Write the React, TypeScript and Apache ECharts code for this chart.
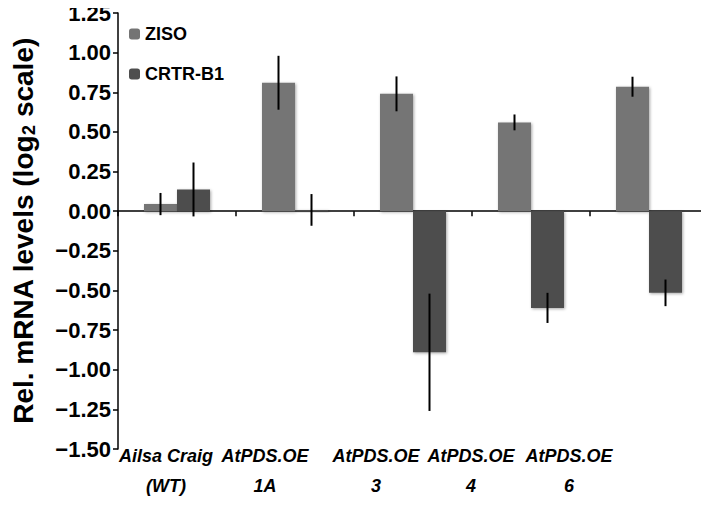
import React, { useEffect, useRef } from "react";
import * as echarts from "echarts";

const categories = [
  ["Ailsa Craig", "(WT)"],
  ["AtPDS.OE", "1A"],
  ["AtPDS.OE", "3"],
  ["AtPDS.OE", "4"],
  ["AtPDS.OE", "6"],
];
const zisoValues = [0.045, 0.81, 0.74, 0.56, 0.785];
const zisoErrors = [0.07, 0.17, 0.11, 0.05, 0.063];
const crtrValues = [0.137, 0.008, -0.89, -0.61, -0.515];
const crtrErrors = [0.17, 0.1, 0.37, 0.095, 0.084];
const labelShift = [22, 60, 74, 120, 160];
const yTicks = { min: -1.5, max: 1.25, interval: 0.25 };

const FONT = "Liberation Sans, Arial, sans-serif";
const BAR_W = 33;

export default function App() {
  const ref = useRef<HTMLDivElement>(null);
  useEffect(() => {
    if (!ref.current) return;
    const chart = echarts.init(ref.current, undefined, { renderer: "svg" });
    const catNames = categories.map((c) => c.join("\n"));
    const rich: Record<string, any> = {};
    labelShift.forEach((s, i) => {
      rich["p" + i] = {
        fontFamily: FONT,
        fontWeight: "bold",
        fontStyle: "italic",
        fontSize: 18,
        color: "#000",
        lineHeight: 30,
        padding: [0, s, 0, 0],
      };
    });
    const errSeries = (vals: number[], errs: number[], offset: number, name: string) => ({
      type: "custom",
      name,
      silent: true,
      z: 5,
      data: vals.map((v, i) => [i, v - errs[i], v + errs[i]]),
      renderItem: (params: any, api: any) => {
        const lo = api.coord([api.value(0), api.value(1)]);
        const hi = api.coord([api.value(0), api.value(2)]);
        const x = lo[0] + offset;
        return {
          type: "line",
          shape: { x1: x, y1: lo[1], x2: x, y2: hi[1] },
          style: { stroke: "#000", lineWidth: 2 },
        };
      },
    });
    chart.setOption({
      animation: false,
      backgroundColor: "#fff",
      grid: { left: 118, right: 1, top: 13, bottom: 63, containLabel: false, outerBoundsMode: "none" },
      legend: {
        show: true,
        orient: "vertical",
        left: 124,
        top: 20,
        itemWidth: 11,
        itemHeight: 11,
        itemGap: 22,
        data: ["ZISO", "CRTR-B1"],
        textStyle: { fontFamily: FONT, fontWeight: "bold", fontSize: 18, color: "#000" },
      },
      xAxis: {
        type: "category",
        data: catNames,
        axisLine: { onZero: true, lineStyle: { color: "#000", width: 1.5 } },
        axisTick: { show: true, alignWithLabel: false, length: 5, lineStyle: { color: "#000", width: 1.5 } },
        axisLabel: {
          interval: 0,
          margin: -8,
          hideOverlap: false,
          formatter: (v: string, i: number) =>
            v
              .split("\n")
              .map((l) => `{p${i}|${l}}`)
              .join("\n"),
          rich,
        },
        splitLine: { show: false },
      },
      yAxis: {
        type: "value",
        min: yTicks.min,
        max: yTicks.max,
        interval: yTicks.interval,
        name: "Rel. mRNA levels (log{sub|2} scale)",
        nameLocation: "middle",
        nameGap: 80,
        nameRotate: 90,
        nameTextStyle: {
          fontFamily: FONT,
          fontWeight: "bold",
          fontSize: 28,
          color: "#000",
          lineHeight: 30,
          rich: {
            sub: {
              fontFamily: FONT,
              fontWeight: "bold",
              fontSize: 18,
              color: "#000",
              lineHeight: 30,
              verticalAlign: "bottom",
              padding: [10, 0, 0, 0],
            },
          },
        },
        axisLine: { show: true, lineStyle: { color: "#000", width: 1.5 } },
        axisTick: { show: true, length: 5, lineStyle: { color: "#000", width: 1.5 } },
        splitLine: { show: false },
        axisLabel: {
          margin: 7,
          fontFamily: FONT,
          fontWeight: "bold",
          fontSize: 22,
          color: "#000",
          formatter: (v: number) => v.toFixed(2).replace("-", "\u2212"),
        },
      },
      series: [
        {
          name: "ZISO",
          type: "bar",
          data: zisoValues,
          barWidth: BAR_W,
          barGap: "0%",
          itemStyle: {
            color: "#747474",
            shadowBlur: 3,
            shadowColor: "rgba(0,0,0,0.35)",
            shadowOffsetX: 1,
            shadowOffsetY: 1,
          },
        },
        {
          name: "CRTR-B1",
          type: "bar",
          data: crtrValues,
          barWidth: BAR_W,
          barGap: "0%",
          itemStyle: {
            color: "#4e4e4e",
            shadowBlur: 3,
            shadowColor: "rgba(0,0,0,0.35)",
            shadowOffsetX: 1,
            shadowOffsetY: 1,
          },
        },
        errSeries(zisoValues, zisoErrors, -BAR_W / 2, "ZISO err"),
        errSeries(crtrValues, crtrErrors, BAR_W / 2, "CRTR err"),
      ],
    });
    return () => chart.dispose();
  }, []);
  return <div ref={ref} style={{ width: 709, height: 512, margin: -8 }} />;
}
